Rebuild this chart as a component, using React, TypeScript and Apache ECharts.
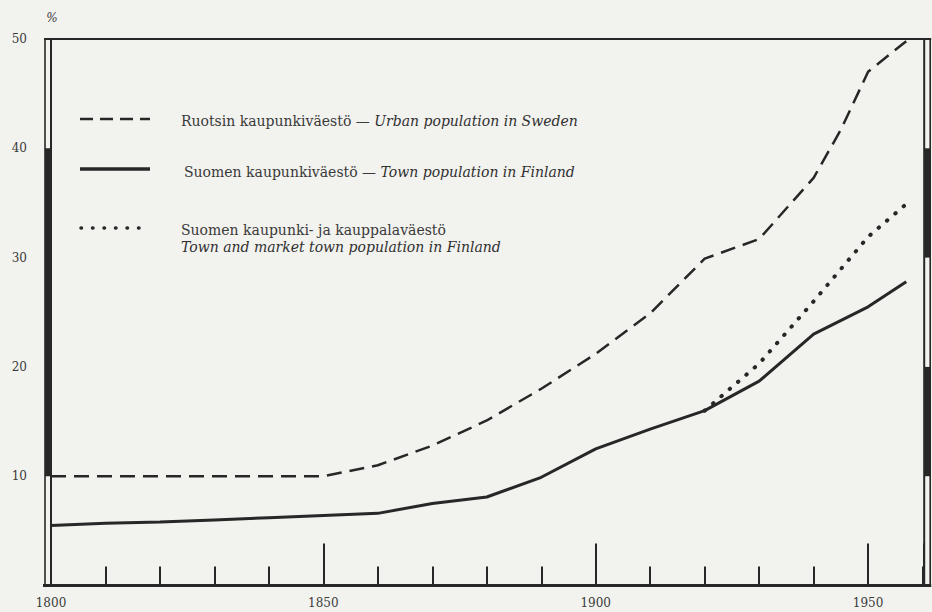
import React, { useEffect, useRef } from "react";
import * as echarts from "echarts";

// ---- data ----
const years = [1800, 1810, 1820, 1830, 1840, 1850, 1860, 1870, 1880, 1890, 1900, 1910, 1920, 1930, 1940, 1945, 1950, 1957];
const swedenUrban = [10.0, 10.0, 10.0, 10.0, 10.0, 10.0, 11.0, 12.8, 15.1, 18.0, 21.2, 24.9, 29.9, 31.7, 37.3, 41.7, 47.0, 49.8];
const finlandYears = [1800, 1810, 1820, 1830, 1840, 1850, 1860, 1870, 1880, 1890, 1900, 1910, 1920, 1930, 1940, 1950, 1957];
const finlandTown = [5.5, 5.7, 5.8, 6.0, 6.2, 6.4, 6.6, 7.5, 8.1, 9.9, 12.5, 14.3, 16.0, 18.7, 23.0, 25.5, 27.8];
const finlandMarketYears = [1920, 1930, 1940, 1950, 1957];
const finlandTownMarket = [16.0, 20.3, 26.0, 31.9, 34.9];

const xTickLabels = [1800, 1850, 1900, 1950];
const yTickLabels = [10, 20, 30, 40, 50];
const unitLabel = "%";

const legendFinnish = ["Ruotsin kaupunkiväestö — ", "Suomen kaupunkiväestö — ", "Suomen kaupunki- ja kauppalaväestö"];
const legendEnglish = ["Urban population in Sweden", "Town population in Finland", "Town and market town population in Finland"];

// ---- styles ----
const BG = "#f2f2ef";
const INK = "#272727";
const TEXT = "#3a3a3a";
const FONT = "DejaVu Serif";

export default function App() {
  const ref = useRef<HTMLDivElement>(null);

  useEffect(() => {
    document.body.style.margin = "0";
    document.body.style.background = BG;
    const chart = echarts.init(ref.current!, null, { renderer: "svg" });

    const xMin = 1800;
    const xMax = 1960.3;

    chart.setOption({
      animation: false,
      backgroundColor: BG,
      grid: { left: 51, right: 7.8, top: 39, bottom: 26.5, containLabel: false },
      xAxis: [
        {
          type: "value",
          position: "bottom",
          min: xMin,
          max: xMax,
          interval: 10,
          axisLine: { show: false },
          axisTick: { show: true, inside: true, length: 19, lineStyle: { width: 2, color: INK } },
          axisLabel: {
            formatter: (v: number) => (xTickLabels.includes(v) ? String(v) : ""),
            margin: 11,
            fontFamily: FONT,
            fontSize: 12,
            color: TEXT,
          },
          splitLine: { show: false },
        },
        {
          type: "value",
          position: "bottom",
          offset: 0,
          min: xMin,
          max: xMax,
          interval: 50,
          axisLine: { show: false },
          axisTick: { show: true, inside: true, length: 42, lineStyle: { width: 2, color: INK } },
          axisLabel: { show: false },
          splitLine: { show: false },
        },
      ],
      yAxis: {
        type: "value",
        min: 0,
        max: 50,
        interval: 10,
        axisLine: { show: false },
        axisTick: { show: false },
        splitLine: { show: false },
        axisLabel: {
          formatter: (v: number) => (yTickLabels.includes(v) ? String(v) : ""),
          margin: 24,
          fontFamily: FONT,
          fontSize: 12,
          color: TEXT,
        },
      },
      series: [
        {
          name: legendEnglish[0],
          type: "line",
          xAxisIndex: 0,
          showSymbol: false,
          data: years.map((y, i) => [y, swedenUrban[i]]),
          lineStyle: { color: INK, width: 2.5, type: [15, 8] },
        },
        {
          name: legendEnglish[1],
          type: "line",
          xAxisIndex: 0,
          showSymbol: false,
          data: finlandYears.map((y, i) => [y, finlandTown[i]]),
          lineStyle: { color: INK, width: 3 },
        },
        {
          name: legendEnglish[2],
          type: "line",
          xAxisIndex: 0,
          showSymbol: false,
          data: finlandMarketYears.map((y, i) => [y, finlandTownMarket[i]]),
          lineStyle: { color: INK, width: 4, type: [0.5, 10.5], cap: "round" },
        },
      ],
    });

    const px = (x: number, y: number) => chart.convertToPixel({ gridIndex: 0 }, [x, y]) as number[];
    const [xl, yb] = px(xMin, 0);
    const [xr, yt] = px(xMax, 50);
    const yv = (v: number) => px(xMin, v)[1];

    const lineEl = (x1: number, y1: number, x2: number, y2: number, w: number, dash?: number[], cap?: string) => ({
      type: "line",
      shape: { x1, y1, x2, y2 },
      style: { stroke: INK, lineWidth: w, lineDash: dash, lineCap: cap || "butt" },
      silent: true,
    });
    const rectEl = (x: number, y: number, w: number, h: number) => ({
      type: "rect",
      shape: { x, y, width: w, height: h },
      style: { fill: INK },
      silent: true,
    });

    const rich = {
      a: { fontFamily: FONT, fontSize: 14, fill: TEXT },
      b: { fontFamily: FONT, fontSize: 14, fill: "#303030", fontStyle: "italic" },
    };
    const lx1 = 80;
    const lx2 = 150;
    const tx = 181;

    chart.setOption({
      graphic: [
        // left double frame
        lineEl(xl - 6, yt, xl - 6, yb, 1.6),
        lineEl(xl, yt, xl, yb, 2),
        rectEl(xl - 6, yv(40), 6, yv(10) - yv(40)),
        // right double frame
        lineEl(xr, yt, xr, yb, 2),
        lineEl(xr + 6, yt, xr + 6, yb, 1.6),
        rectEl(xr, yv(40), 6, yv(30) - yv(40)),
        rectEl(xr, yv(20), 6, yv(10) - yv(20)),
        // top and bottom
        lineEl(xl - 7, yt, xr + 7, yt, 2),
        lineEl(xl - 8, yb, xr + 7, yb, 3),
        // unit
        {
          type: "text",
          x: xl + 1,
          y: 18,
          style: { text: unitLabel, fontFamily: FONT, fontSize: 12, fill: TEXT, align: "center", verticalAlign: "middle", fontStyle: "italic" },
          silent: true,
        },
        // legend samples
        lineEl(lx1, 119, lx2, 119, 2.5, [13, 7]),
        lineEl(lx1, 169, lx2, 169, 3.5),
        lineEl(lx1 + 1, 228, lx2, 228, 3.5, [0.5, 11], "round"),
        // legend texts
        {
          type: "text",
          x: tx,
          y: 121,
          style: { text: `{a|${legendFinnish[0]}}{b|${legendEnglish[0]}}`, rich, verticalAlign: "middle" },
          silent: true,
        },
        {
          type: "text",
          x: tx + 3,
          y: 172,
          style: { text: `{a|${legendFinnish[1]}}{b|${legendEnglish[1]}}`, rich, verticalAlign: "middle" },
          silent: true,
        },
        {
          type: "text",
          x: tx,
          y: 230,
          style: { text: `{a|${legendFinnish[2]}}`, rich, verticalAlign: "middle" },
          silent: true,
        },
        {
          type: "text",
          x: tx,
          y: 247,
          style: { text: `{b|${legendEnglish[2]}}`, rich, verticalAlign: "middle" },
          silent: true,
        },
      ],
    });

    return () => chart.dispose();
  }, []);

  return <div ref={ref} style={{ width: 932, height: 612, background: BG }} />;
}
